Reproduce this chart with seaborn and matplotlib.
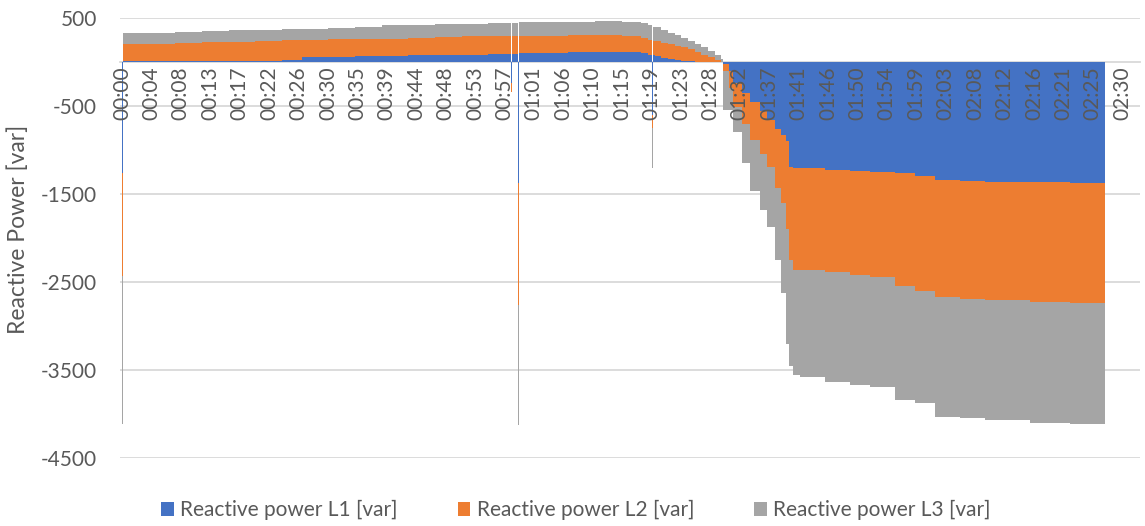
import matplotlib
matplotlib.use("Agg")
import matplotlib.pyplot as plt
from matplotlib.patches import Patch
import numpy as np
import seaborn as sns

# Sample times (minutes since 00:00); each value holds until the next time
minutes = [0.0, 0.15, 4, 8, 12, 16, 20, 24, 27, 31, 35, 39, 43, 47, 51, 55,
           58.4, 58.55, 59.45, 59.6, 63, 67, 71, 75, 78, 79, 79.6, 79.75,
           80, 81, 82, 83, 84, 85, 86, 87, 88, 89, 90,
           90.3, 91.1, 91.7, 93.1, 94.3, 95.8, 96.8, 98.0, 98.9, 99.7,
           100.2, 100.8, 101.8, 105.6, 109.3, 112.3, 116.1, 119.1, 122.1,
           125.8, 129.6, 136.3, 142.3, 147.6]

l1 = [-1260, 10, 10, 12, 12, 15, 15, 20, 55, 60, 65, 70, 75, 80, 85, 95,
      -240, 95, -1375, 100, 105, 110, 117, 110, 99, 85, -600, 75,
      65, 45, 30, 20, 15, 10, 5, 0, 0, 0, 0,
      -20, -100, -240, -350, -450, -560, -660, -760, -830, -900,
      -1190, -1200, -1200, -1230, -1240, -1250, -1265, -1300, -1340,
      -1355, -1360, -1365, -1370, -1375]

l2 = [-1170, 195, 195, 200, 210, 215, 220, 225, 195, 200, 195, 195, 200,
      205, 205, 195, -100, 195, -1385, 190, 190, 195, 190, 185, 174, 170,
      -150, 165, 170, 170, 170, 165, 155, 135, 110, 85, 55, 25, 5,
      -80, -200, -270, -350, -440, -490, -530, -670, -770, -1000,
      -1060, -1160, -1160, -1160, -1180, -1190, -1285, -1300, -1330,
      -1335, -1340, -1360, -1365, -1365]

l3 = [-1685, 125, 128, 130, 128, 130, 130, 130, 130, 130, 140, 150, 150,
      145, 145, 150, 0, 150, -1365, 160, 160, 155, 159, 165, 167, 165,
      -455, 160, 160, 150, 135, 120, 105, 95, 90, 80, 70, 55, 25,
      -450, -250, -290, -450, -580, -630, -680, -820, -1020, -1300,
      -1200, -1200, -1220, -1250, -1250, -1250, -1290, -1270, -1360,
      -1360, -1370, -1375, -1375, -1385]

series_names = ["Reactive power L1 [var]", "Reactive power L2 [var]",
                "Reactive power L3 [var]"]
series_colors = ["#4472C4", "#ED7D31", "#A5A5A5"]

tick_labels = ["00:00", "00:04", "00:08", "00:13", "00:17", "00:22", "00:26",
               "00:30", "00:35", "00:39", "00:44", "00:48", "00:53", "00:57",
               "01:01", "01:06", "01:10", "01:15", "01:19", "01:23", "01:28",
               "01:32", "01:37", "01:41", "01:46", "01:50", "01:54", "01:59",
               "02:03", "02:08", "02:12", "02:16", "02:21", "02:25", "02:30"]
tick_step_seconds = 265

y_ticks = [500, -500, -1500, -2500, -3500, -4500]

text_color = "#595959"
grid_color = "#D9D9D9"

sns.set_theme(style="white")
plt.rcParams["font.family"] = ["Lato", "DejaVu Sans"]

fig = plt.figure(figsize=(11.45, 5.26), dpi=100)
ax = fig.add_axes([120 / 1145, 68 / 526, 1020 / 1145, 440 / 526])

t = np.array(minutes, dtype=float)
values = [np.array(v, dtype=float) for v in (l1, l2, l3)]

# Stacked columns: positive parts stack upward, negative parts downward
pos_base = np.zeros_like(t)
neg_base = np.zeros_like(t)
for vals, color in zip(values, series_colors):
    pos = np.clip(vals, 0, None)
    neg = np.clip(vals, None, 0)
    ax.fill_between(t, pos_base, pos_base + pos, step="post", color=color,
                    linewidth=0, zorder=3)
    ax.fill_between(t, neg_base, neg_base + neg, step="post", color=color,
                    linewidth=0, zorder=3)
    pos_base = pos_base + pos
    neg_base = neg_base + neg

ax.set_ylim(-4500, 500)
ax.set_xlim(-0.3, 152.85)
ax.set_yticks(y_ticks)
ax.set_yticklabels([str(v) for v in y_ticks])
ax.yaxis.grid(True, color=grid_color, linewidth=1.3)
ax.yaxis.set_zorder(0.5)
ax.xaxis.grid(False)

tick_pos = [i * tick_step_seconds / 60 for i in range(len(tick_labels))]
ax.set_xticks(tick_pos)
ax.set_xticklabels(tick_labels)
# time labels sit on top of the filled areas
ax.xaxis.set_zorder(5)

for side in ("top", "right", "left"):
    ax.spines[side].set_visible(False)
ax.spines["bottom"].set_position(("data", 0))
ax.spines["bottom"].set_color(grid_color)
ax.spines["bottom"].set_linewidth(1.3)
ax.spines["bottom"].set_zorder(1)

ax.tick_params(axis="x", length=0, pad=3, labelsize=15, labelcolor=text_color,
               labelrotation=90)
ax.tick_params(axis="y", length=0, pad=16.5, labelsize=15,
               labelcolor=text_color)

ax.set_ylabel("Reactive Power [var]", fontsize=16.5, color=text_color)
ax.yaxis.set_label_coords(-0.089, 0.52)

handles = [Patch(facecolor=c, edgecolor="none") for c in series_colors]
fig.legend(handles, series_names, loc="center", bbox_to_anchor=(0.503, 0.03),
           ncol=3, frameon=False, fontsize=15, handlelength=0.6,
           handleheight=0.6, handletextpad=0.3, columnspacing=2.9,
           labelcolor=text_color)

fig.savefig("out.png", dpi=100, facecolor="white")
